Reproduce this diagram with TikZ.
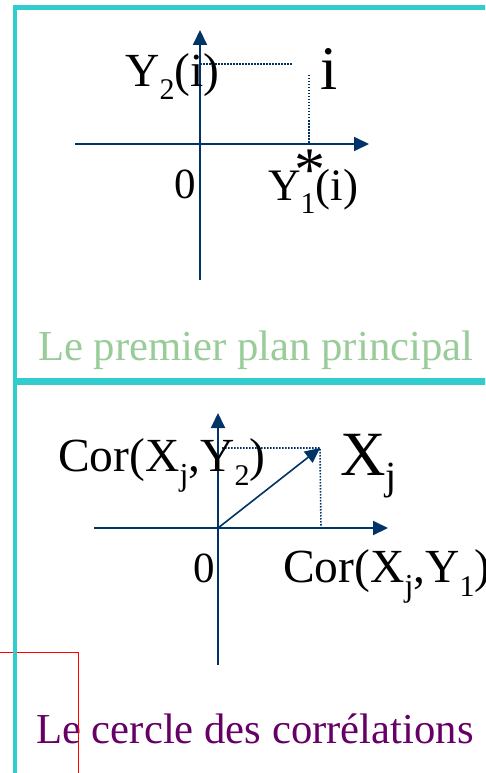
\documentclass[tikz,border=0pt]{standalone}
\usepackage{fontspec}
\setmainfont{Liberation Serif}
\usetikzlibrary{arrows.meta}
\definecolor{axisblue}{RGB}{0,51,102}
\definecolor{panelcyan}{RGB}{51,204,204}
\definecolor{titlegreen}{RGB}{153,204,153}
\definecolor{titlepurple}{RGB}{102,0,102}
\newcommand{\sbs}[3]{\raisebox{#1}{\fontsize{#2}{#2}\selectfont #3}}
\tikzset{
  lab/.style={inner sep=0pt, anchor=base west, font=\fontsize{47.5}{50}\selectfont},
  zerolab/.style={inner sep=0pt, anchor=base west, font=\fontsize{43}{46}\selectfont},
  title/.style={inner sep=0pt, anchor=base west, font=\fontsize{42.7}{46}\selectfont},
  axis/.style={draw=axisblue, line width=2pt},
  arr/.style={axis, -{Triangle[length=15pt,width=14pt]}},
  proj/.style={draw=axisblue, line width=1.6pt, dash pattern=on 1.5pt off 1.5pt},
  panel/.style={draw=panelcyan, line width=4.5pt},
  redbox/.style={draw=red, line width=1pt}
}
\begin{document}
\begin{tikzpicture}[x=1pt,y=-1pt]
\clip (0,0) rectangle (485,773);
% ---------- top panel ----------
\coordinate (o1) at (200,144);
\coordinate (yb1) at (200,280);
\coordinate (yt1) at (200,30);
\coordinate (xl1) at (75,144);
\coordinate (xr1) at (369,144);
\coordinate (py1) at (200,64);
\coordinate (pp1) at (292,64);
\coordinate (pq1) at (309,75);
\coordinate (px1) at (309,144);
\draw[arr] (yb1) -- (yt1);
\draw[arr] (xl1) -- (xr1);
\draw[proj] (py1) -- (pp1);
\draw[proj] (pq1) -- (px1);
\node[lab] (y2i) at (125,87) {Y\sbs{-13pt}{30}{2}(i)};
\node[inner sep=0pt, anchor=base west, font=\fontsize{62}{64}\selectfont] (ilab) at (320,90) {i};
\node[zerolab] (zero1) at (174,198) {0};
\node[inner sep=0pt, anchor=base, font=\fontsize{62}{64}\selectfont] (star) at (310,190) {*};
\node[inner sep=0pt, anchor=base west, font=\fontsize{45}{48}\selectfont] (y1i) at (268,200) {Y\sbs{-13pt}{30}{1}(i)};
\node[title, text=titlegreen] (t1) at (38,360) {Le premier plan principal};
% ---------- bottom panel ----------
\coordinate (o2) at (218,528);
\coordinate (yb2) at (218,665);
\coordinate (yt2) at (218,413);
\coordinate (xl2) at (94,528);
\coordinate (xr2) at (388,528);
\coordinate (v2) at (320,448);
\coordinate (py2) at (222,448);
\coordinate (px2) at (321,528);
\draw[arr] (yb2) -- (yt2);
\draw[arr] (xl2) -- (xr2);
\draw[proj] (py2) -- (v2) -- (px2);
\draw[arr, line width=1.6pt] (o2) -- (v2);
\node[lab] (cor2) at (58,471) {Cor(X\sbs{-14pt}{32}{j},Y\sbs{-14pt}{30}{2})};
\node[inner sep=0pt, anchor=base west, font=\fontsize{63}{66}\selectfont] (xj) at (340,475) {X\sbs{-14pt}{40}{j}};
\node[zerolab] (zero2) at (193,582) {0};
\node[lab] (cor1) at (283,582) {Cor(X\sbs{-14pt}{32}{j},Y\sbs{-14pt}{30}{1})};
\node[title, text=titlepurple] (t2) at (36,743) {Le cercle des corrélations};
% red frame fragment
\coordinate (r1) at (-5,652);
\coordinate (r2) at (78,652);
\coordinate (r3) at (78,780);
\draw[redbox] (r1) -- (r2) -- (r3);
% ---------- panel frames ----------
\draw[panel] (520,380.5) -- (15,380.5) -- (15,7.7) -- (520,7.7);
\draw[panel] (520,383) -- (15,383) -- (15,800);
\end{tikzpicture}
\end{document}
